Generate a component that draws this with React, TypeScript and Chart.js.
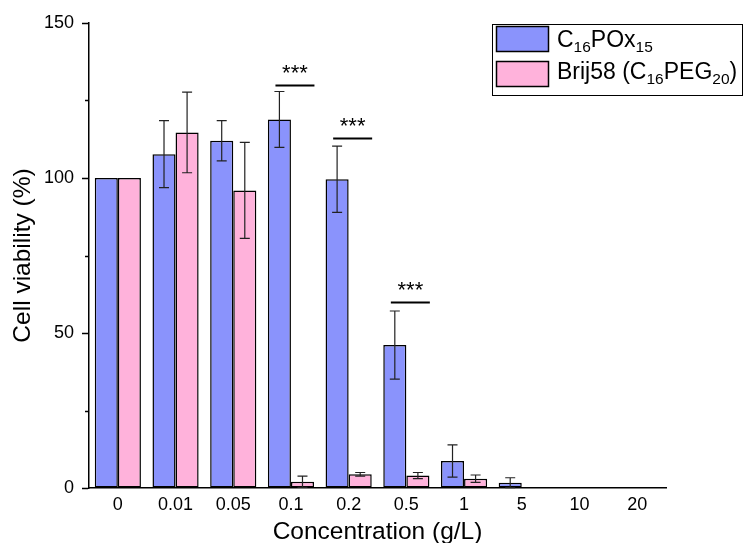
import React, { useEffect, useRef } from "react";
import { Chart, registerables } from "chart.js";

Chart.register(...registerables);

// ---- data ----
const categories = ["0", "0.01", "0.05", "0.1", "0.2", "0.5", "1", "5", "10", "20"];
const poxValues = [100, 107.7, 112.0, 118.9, 99.6, 46.1, 8.7, 1.7, 0, 0];
const poxErrors = [0, 10.8, 6.5, 9.0, 10.7, 11.0, 5.2, 1.6, 0, 0];
const brijValues = [100, 114.7, 96.0, 2.0, 4.4, 4.0, 3.0, 0, 0, 0];
const brijErrors = [0, 13.0, 15.5, 1.8, 0.6, 1.0, 1.2, 0, 0, 0];
const sigCategories = ["0.1", "0.2", "0.5"];
const sigLevels = [130, 113, 60];
const sigLabels = ["***", "***", "***"];
const yMajorTicks = [0, 50, 100, 150];
const yMinorTicks = [25, 75, 125];
const legendPox = [
  { t: "C" }, { t: "16", sub: true }, { t: "POx" }, { t: "15", sub: true },
];
const legendBrij = [
  { t: "Brij58 (C" }, { t: "16", sub: true }, { t: "PEG" }, { t: "20", sub: true }, { t: ")" },
];
const xTitle = "Concentration (g/L)";
const yTitle = "Cell viability (%)";

const FONT = '"Liberation Sans", Arial, sans-serif';
const BLUE = "#8A93FC";
const PINK = "#FFB2DB";

type Part = { t: string; sub?: boolean };

function drawRich(ctx: CanvasRenderingContext2D, parts: Part[], x: number, y: number) {
  let cx = x;
  for (const p of parts) {
    ctx.font = p.sub ? `15.5px ${FONT}` : `23px ${FONT}`;
    ctx.fillText(p.t, cx, p.sub ? y + 5.5 : y);
    cx += ctx.measureText(p.t).width;
  }
}

const errorBarPlugin = {
  id: "errorBars",
  afterDatasetsDraw(chart: any) {
    const ctx = chart.ctx as CanvasRenderingContext2D;
    const yScale = chart.scales.y;
    const errs = [poxErrors, brijErrors];
    ctx.save();
    ctx.strokeStyle = "#222";
    ctx.lineWidth = 1.2;
    chart.data.datasets.forEach((ds: any, di: number) => {
      const meta = chart.getDatasetMeta(di);
      meta.data.forEach((el: any, i: number) => {
        const v = ds.data[i];
        const e = errs[di][i];
        if (!e) return;
        const x = el.x;
        const yTop = yScale.getPixelForValue(v + e);
        const yBot = yScale.getPixelForValue(Math.max(0, v - e));
        ctx.beginPath();
        ctx.moveTo(x, yTop);
        ctx.lineTo(x, yBot);
        ctx.moveTo(x - 5, yTop);
        ctx.lineTo(x + 5, yTop);
        if (v - e > 0) {
          ctx.moveTo(x - 5, yBot);
          ctx.lineTo(x + 5, yBot);
        }
        ctx.stroke();
      });
    });
    ctx.restore();
  },
};

const decorPlugin = {
  id: "decor",
  afterDraw(chart: any) {
    const ctx = chart.ctx as CanvasRenderingContext2D;
    const area = chart.chartArea;
    const xScale = chart.scales.x;
    const yScale = chart.scales.y;
    ctx.save();
    // minor ticks
    ctx.strokeStyle = "#000";
    ctx.lineWidth = 1.5;
    for (const v of yMinorTicks) {
      const y = Math.round(yScale.getPixelForValue(v)) + 0.5;
      ctx.beginPath();
      ctx.moveTo(area.left - 4, y);
      ctx.lineTo(area.left, y);
      ctx.stroke();
    }
    // significance markers
    ctx.fillStyle = "#000";
    sigCategories.forEach((c, i) => {
      const idx = categories.indexOf(c);
      const cx = xScale.getPixelForValue(idx) + 4;
      const y = Math.round(yScale.getPixelForValue(sigLevels[i])) + 0.5;
      ctx.lineWidth = 1.8;
      ctx.beginPath();
      ctx.moveTo(cx - 19.5, y);
      ctx.lineTo(cx + 19.5, y);
      ctx.stroke();
      ctx.font = `22px ${FONT}`;
      ctx.textAlign = "center";
      ctx.textBaseline = "alphabetic";
      ctx.fillText(sigLabels[i], cx, y - 6);
    });
    // axis titles
    ctx.font = `24.5px ${FONT}`;
    ctx.textAlign = "center";
    ctx.textBaseline = "alphabetic";
    ctx.fillText(xTitle, (area.left + area.right) / 2, 539);
    ctx.save();
    ctx.translate(30, (area.top + area.bottom) / 2);
    ctx.rotate(-Math.PI / 2);
    ctx.fillText(yTitle, 0, 0);
    ctx.restore();
    // legend
    ctx.lineWidth = 1;
    ctx.strokeStyle = "#000";
    ctx.strokeRect(492.5, 24.5, 250, 71);
    ctx.lineWidth = 1.5;
    ctx.fillStyle = BLUE;
    ctx.fillRect(496.5, 26.5, 52, 25);
    ctx.strokeRect(496.5, 26.5, 52, 25);
    ctx.fillStyle = PINK;
    ctx.fillRect(496.5, 61.5, 52, 25);
    ctx.strokeRect(496.5, 61.5, 52, 25);
    ctx.fillStyle = "#000";
    ctx.textAlign = "left";
    drawRich(ctx, legendPox, 557, 46.5);
    drawRich(ctx, legendBrij, 557, 78.5);
    ctx.restore();
  },
};

export default function App() {
  const ref = useRef<HTMLCanvasElement | null>(null);
  useEffect(() => {
    if (!ref.current) return;
    const bw = (ctx: any) => (ctx.raw === 0 ? 0 : 1.5);
    const chart = new Chart(ref.current, {
      type: "bar",
      data: {
        labels: categories,
        datasets: [
          {
            label: "C16POx15",
            data: poxValues,
            backgroundColor: BLUE,
            borderColor: "#000",
            borderWidth: bw,
            borderSkipped: false,
          },
          {
            label: "Brij58 (C16PEG20)",
            data: brijValues,
            backgroundColor: PINK,
            borderColor: "#000",
            borderWidth: bw,
            borderSkipped: false,
          },
        ],
      },
      options: {
        animation: false,
        responsive: false,
        devicePixelRatio: 1,
        layout: { padding: { left: 0, top: 23, right: 81, bottom: 0 } },
        datasets: { bar: { categoryPercentage: 0.8, barPercentage: 1 } },
        plugins: {
          legend: { display: false },
          tooltip: { enabled: false },
        },
        scales: {
          x: {
            grid: { drawOnChartArea: false, drawTicks: false },
            border: { display: true, color: "#000", width: 1.5 },
            ticks: {
              color: "#000",
              font: { family: FONT, size: 18 },
              padding: 6,
              maxRotation: 0,
              autoSkip: false,
            },
            afterFit: (s: any) => {
              s.height = 55;
            },
          },
          y: {
            min: 0,
            max: 150,
            afterBuildTicks: (s: any) => {
              s.ticks = yMajorTicks.map((v) => ({ value: v }));
            },
            grid: {
              drawOnChartArea: false,
              drawTicks: true,
              tickLength: 7,
              tickWidth: 1.5,
              tickColor: "#000",
            },
            border: { display: true, color: "#000", width: 1.5 },
            ticks: {
              color: "#000",
              font: { family: FONT, size: 18 },
              padding: 8,
            },
            afterFit: (s: any) => {
              s.width = 89;
            },
          },
        },
      },
      plugins: [errorBarPlugin, decorPlugin],
    } as any);
    return () => chart.destroy();
  }, []);
  return (
    <div style={{ position: "fixed", left: 0, top: 0, width: 747, height: 543, background: "#fff" }}>
      <canvas ref={ref} width={747} height={543} style={{ display: "block" }} />
    </div>
  );
}
